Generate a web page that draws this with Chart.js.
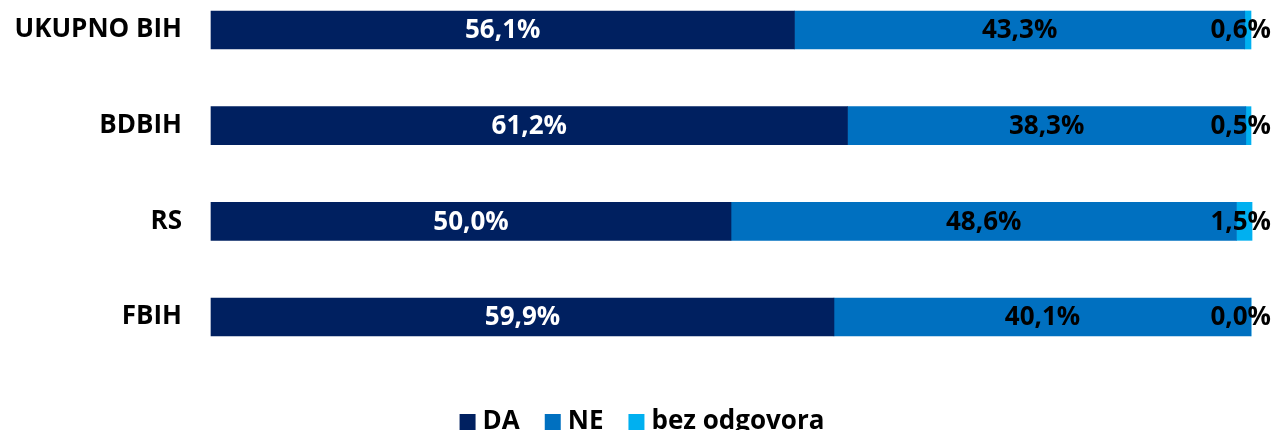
<!DOCTYPE html>
<html>
<head>
<meta charset="utf-8">
<script src="https://cdn.jsdelivr.net/npm/chart.js@4.4.1/dist/chart.umd.min.js"></script>
<style>
  html, body { margin: 0; padding: 0; background: #fff; }
  #wrap { width: 1276px; height: 430px; }
</style>
</head>
<body>
<div id="wrap"><canvas id="myChart" width="1276" height="430"></canvas></div>
<script>
// kategorije i vrijednosti (%)
var kategorije = ['UKUPNO BIH', 'BDBIH', 'RS', 'FBIH'];
var da = [56.1, 61.2, 50.0, 59.9];
var ne = [43.3, 38.3, 48.6, 40.1];
var bezOdgovora = [0.6, 0.5, 1.5, 0.0];

var FONT = "'Open Sans', 'Noto Sans', sans-serif";

function fmt(v) {
  return v.toFixed(1).replace('.', ',') + '%';
}

// crta procente na trakama
var oznake = {
  id: 'oznake',
  afterDatasetsDraw: function (chart) {
    var c = chart.ctx;
    var area = chart.chartArea;
    c.save();
    c.font = 'bold 26px ' + FONT;
    c.textBaseline = 'middle';
    chart.data.datasets.forEach(function (ds, i) {
      var meta = chart.getDatasetMeta(i);
      meta.data.forEach(function (bar, j) {
        var txt = fmt(ds.data[j]);
        if (i === 2) {
          c.fillStyle = '#000';
          c.textAlign = 'right';
          c.fillText(txt, area.right + 20, bar.y + 1);
        } else {
          c.fillStyle = i === 0 ? '#fff' : '#000';
          c.textAlign = 'center';
          c.fillText(txt, (bar.x + bar.base) / 2, bar.y + 1);
        }
      });
    });
    c.restore();
  }
};

var ctx = document.getElementById('myChart').getContext('2d');
var chart = new Chart(ctx, {
  type: 'bar',
  data: {
    labels: kategorije,
    datasets: [{
      label: 'DA',
      data: da,
      backgroundColor: '#002060',
      barThickness: 38,
      clip: false
    }, {
      label: 'NE',
      data: ne,
      backgroundColor: '#0070C0',
      barThickness: 38,
      clip: false
    }, {
      label: 'bez odgovora',
      data: bezOdgovora,
      backgroundColor: '#00B0F0',
      barThickness: 38,
      clip: false
    }]
  },
  options: {
    indexAxis: 'y',
    responsive: false,
    animation: false,
    layout: { padding: { top: 30, right: 0, left: 14, bottom: -15 } },
    scales: {
      x: {
        stacked: true,
        min: 0,
        max: 100,
        grid: { display: false },
        border: { display: false },
        ticks: { display: false },
        afterFit: function (s) { s.height = 61; }
      },
      y: {
        stacked: true,
        offset: false,
        grid: { display: false, drawTicks: false },
        border: { display: false },
        ticks: {
          color: '#000',
          padding: 29,
          font: { family: FONT, size: 26, weight: 'bold' }
        },
        afterFit: function (s) {
          s.width = 197;
          s.paddingTop = 0;
          s.paddingBottom = 0;
        }
      },
      // prazna osa desno, samo za razmak
      yDesno: {
        type: 'linear',
        position: 'right',
        grid: { display: false },
        border: { display: false },
        ticks: { display: false },
        afterFit: function (s) {
          s.width = 25;
          s.paddingTop = 0;
          s.paddingBottom = 0;
        }
      }
    },
    plugins: {
      tooltip: { enabled: false },
      legend: {
        position: 'bottom',
        labels: {
          color: '#000',
          usePointStyle: true,
          pointStyle: 'rect',
          boxWidth: 4,
          boxHeight: 16,
          padding: 31,
          font: { family: FONT, size: 26, weight: 'bold' }
        }
      }
    }
  },
  plugins: [oznake]
});
</script>
</body>
</html>
